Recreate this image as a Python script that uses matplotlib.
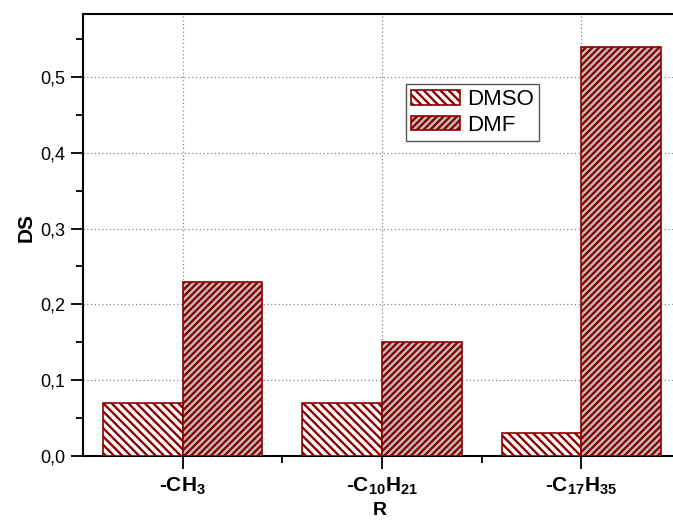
import numpy as np
import matplotlib
matplotlib.use("Agg")
import matplotlib.pyplot as plt

# data
groups = [r"-CH$_{3}$", r"-C$_{10}$H$_{21}$", r"-C$_{17}$H$_{35}$"]
dmso = [0.07, 0.07, 0.03]
dmf = [0.23, 0.15, 0.54]
yticks = [0.0, 0.1, 0.2, 0.3, 0.4, 0.5]
ytick_labels = ["0,0", "0,1", "0,2", "0,3", "0,4", "0,5"]

plt.rcParams["font.family"] = ["Liberation Sans", "DejaVu Sans"]
plt.rcParams["mathtext.fontset"] = "custom"
plt.rcParams["mathtext.rm"] = "Liberation Sans:bold"
plt.rcParams["mathtext.default"] = "rm"
plt.rcParams["hatch.linewidth"] = 1.7

red = "#8b0000"

fig = plt.figure(figsize=(6.73, 5.2), dpi=100)
ax = fig.add_axes([83 / 673, 64 / 520, 598 / 673, 442 / 520])

x = np.arange(len(groups))
w = 0.4
ax.bar(x - w / 2, dmso, w, facecolor="white", edgecolor=red, hatch="\\" * 4,
       linewidth=1.2, label="DMSO", zorder=3)
ax.bar(x + w / 2, dmf, w, facecolor="#c0c0c0", edgecolor=red, hatch="/" * 5,
       linewidth=1.2, label="DMF", zorder=3)

ax.set_xlim(-0.5, 2.5)
ax.set_ylim(0, 0.583)
ax.set_xticks(x)
ax.set_xticklabels(groups, fontsize=15, fontweight="bold")
ax.set_xticks([0.5, 1.5], minor=True)
ax.set_yticks(yticks)
ax.set_yticklabels(ytick_labels, fontsize=13)
ax.set_yticks(np.arange(0.05, 0.58, 0.1), minor=True)
ax.tick_params(which="major", length=9, width=1.3, direction="out", pad=4)
ax.tick_params(axis="x", which="major", pad=5)
ax.tick_params(which="minor", length=5, width=1.3, direction="out")
ax.tick_params(top=False, right=False)

ax.grid(True, which="major", linestyle=(0, (1, 2)), color="#888888", linewidth=0.9, zorder=0)
ax.set_axisbelow(True)
for s in ax.spines.values():
    s.set_linewidth(1.5)
ax.spines["right"].set_visible(False)

ax.set_ylabel("DS", fontsize=15, fontweight="bold", va="center")
ax.yaxis.set_label_coords(-0.095, 0.516)
ax.set_xlabel("R", fontsize=14, fontweight="bold", va="center")
ax.xaxis.set_label_coords(0.497, -0.123)

leg = ax.legend(loc="upper left", bbox_to_anchor=(0.54, 0.842), borderaxespad=0,
                fontsize=16, fancybox=False, edgecolor="#555555", framealpha=1,
                handlelength=2.2, handleheight=0.65, handletextpad=0.3,
                labelspacing=0.2, borderpad=0.25)
leg.get_frame().set_linewidth(1.0)

fig.savefig("out.png", dpi=100)
